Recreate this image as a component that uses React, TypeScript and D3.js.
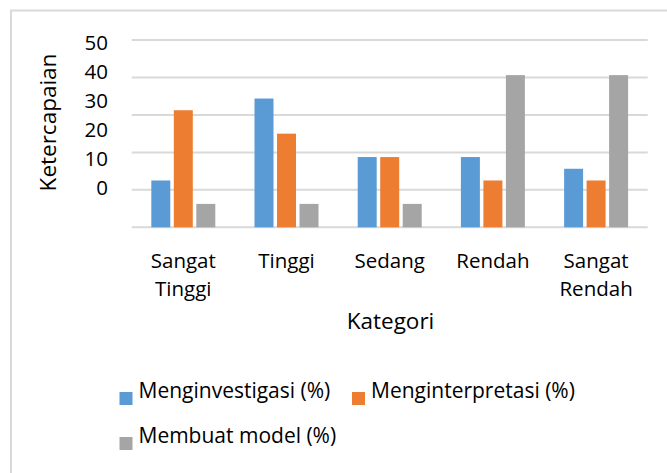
import React, { useEffect, useRef } from 'react';
import * as d3 from 'd3';

const categories = [['Sangat', 'Tinggi'], ['Tinggi'], ['Sedang'], ['Rendah'], ['Sangat', 'Rendah']];
const seriesNames = ['Menginvestigasi (%)', 'Menginterpretasi (%)', 'Membuat model (%)'];
const menginvestigasi = [12.5, 34.375, 18.75, 18.75, 15.625];
const menginterpretasi = [31.25, 25, 18.75, 12.5, 12.5];
const membuatModel = [6.25, 6.25, 6.25, 40.625, 40.625];
const yTicks = [0, 10, 20, 30, 40, 50];
const colors = ['#5B9BD5', '#ED7D31', '#A5A5A5'];

const W = 667;
const H = 473;
const FONT = "'Open Sans', sans-serif";

const App: React.FC = () => {
  const ref = useRef<SVGSVGElement>(null);

  useEffect(() => {
    if (!ref.current) return;
    const svg = d3.select(ref.current);
    svg.selectAll('*').remove();

    const values = [menginvestigasi, menginterpretasi, membuatModel];
    const catKeys = categories.map(c => c.join(' '));

    // frame
    svg.append('rect')
      .attr('x', 11).attr('y', 10.5)
      .attr('width', 700).attr('height', 500)
      .attr('fill', 'white')
      .attr('stroke', '#d9d9d9').attr('stroke-width', 2);

    const left = 131.7, right = 647.7;
    const y = d3.scaleLinear().domain([0, 50]).range([227.3, 40]);
    // labels in the original sit on a tighter spacing than the gridlines
    const yLabel = d3.scaleLinear().domain([0, 50]).range([188, 43]);

    const x0 = d3.scaleBand<string>()
      .domain(catKeys)
      .range([left, right])
      .paddingInner(0.38)
      .paddingOuter(0.19);
    const x1 = d3.scaleBand<number>()
      .domain([0, 1, 2])
      .range([0, x0.bandwidth()])
      .paddingInner(0.156);

    // gridlines
    svg.append('g')
      .selectAll('line')
      .data(yTicks)
      .join('line')
      .attr('x1', left).attr('x2', right)
      .attr('y1', d => y(d)).attr('y2', d => y(d))
      .attr('stroke', '#d9d9d9').attr('stroke-width', 2);

    // y labels
    svg.append('g')
      .selectAll('text')
      .data(yTicks)
      .join('text')
      .attr('x', 108)
      .attr('y', d => yLabel(d))
      .attr('dy', '0.35em')
      .attr('text-anchor', 'end')
      .style('font-family', FONT)
      .style('font-size', '20.5px')
      .attr('fill', '#000')
      .text(d => d);

    // bars
    const groups = svg.append('g')
      .selectAll('g')
      .data(catKeys)
      .join('g')
      .attr('transform', d => `translate(${x0(d)},0)`);

    groups.selectAll('rect')
      .data((_, i) => values.map((s, si) => ({ si, v: s[i] })))
      .join('rect')
      .attr('x', d => x1(d.si) as number)
      .attr('width', x1.bandwidth())
      .attr('y', d => y(d.v))
      .attr('height', d => y(0) - y(d.v))
      .attr('fill', d => colors[d.si]);

    // category labels
    const catG = svg.append('g')
      .selectAll('text')
      .data(categories)
      .join('text')
      .attr('x', (_, i) => (x0(catKeys[i]) as number) + x0.bandwidth() / 2)
      .attr('y', 268)
      .attr('text-anchor', 'middle')
      .style('font-family', FONT)
      .style('font-size', '20.5px');
    catG.selectAll('tspan')
      .data(d => d)
      .join('tspan')
      .attr('x', function () { return (this.parentNode as SVGTextElement).getAttribute('x'); })
      .attr('dy', (_, i) => (i === 0 ? 0 : 28))
      .text(d => d);

    // axis titles
    svg.append('text')
      .attr('x', 390.5).attr('y', 329)
      .attr('text-anchor', 'middle')
      .style('font-family', FONT)
      .style('font-size', '22.5px')
      .text('Kategori');

    svg.append('text')
      .attr('transform', 'translate(56,122.5) rotate(-90)')
      .attr('text-anchor', 'middle')
      .style('font-family', FONT)
      .style('font-size', '22.5px')
      .text('Ketercapaian');

    // legend
    const legendPos = [
      { x: 119.5, y: 392 },
      { x: 352, y: 392 },
      { x: 119.5, y: 437 },
    ];
    const leg = svg.append('g')
      .selectAll('g')
      .data(seriesNames)
      .join('g')
      .attr('transform', (_, i) => `translate(${legendPos[i].x},${legendPos[i].y})`);
    leg.append('rect')
      .attr('width', 13).attr('height', 13)
      .attr('fill', (_, i) => colors[i]);
    leg.append('text')
      .attr('x', 19).attr('y', 6)
      .style('font-family', FONT)
      .style('font-size', '21px')
      .text(d => d);
  }, []);

  return (
    <svg
      ref={ref}
      width={W}
      height={H}
      style={{ position: 'absolute', left: 0, top: 0, background: 'white' }}
    />
  );
};

export default App;
